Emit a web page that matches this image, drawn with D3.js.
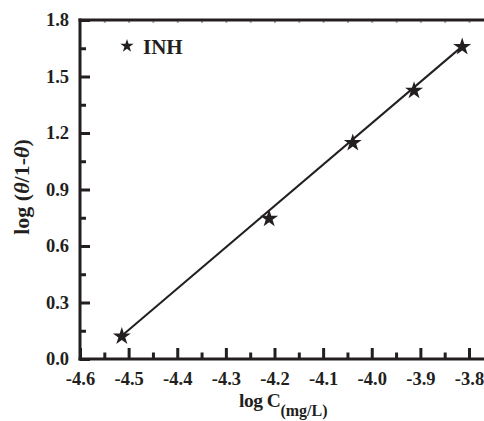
<!DOCTYPE html>
<html><head><meta charset="utf-8">
<script src="https://cdn.jsdelivr.net/npm/d3@7"></script>
<style>body{margin:0;background:#fff}svg{display:block}text{font-family:"Liberation Serif","Times New Roman",serif;font-weight:bold;fill:#231f20}</style>
</head><body>
<script>
const logC = [-4.514, -4.211, -4.039, -3.913, -3.814];
const logTheta = [0.12, 0.745, 1.147, 1.425, 1.657];
const fitX = [-4.514, -3.814];
const fitY = [0.124, 1.660];
const xTicks = [-4.6, -4.5, -4.4, -4.3, -4.2, -4.1, -4.0, -3.9, -3.8];
const xMinorTicks = [-4.55, -4.45, -4.35, -4.25, -4.15, -4.05, -3.95, -3.85];
const yTicks = [0.0, 0.3, 0.6, 0.9, 1.2, 1.5, 1.8];
const yMinorTicks = [0.15, 0.45, 0.75, 1.05, 1.35, 1.65];
const seriesName = "INH";

const W = 484, H = 421;
const ink = "#231f20";
const svg = d3.select("body").append("svg").attr("width", W).attr("height", H);
const x = d3.scaleLinear().domain([-4.6, -3.8]).range([80, 469]);
const y = d3.scaleLinear().domain([0, 1.8]).range([359, 20]);
const fmt = d => d.toFixed(1);

function styleAxis(sel, w) {
  sel.select(".domain").remove();
  sel.selectAll(".tick line").attr("stroke", ink).attr("stroke-width", w);
  sel.selectAll(".tick text").attr("fill", ink).attr("font-family", '"Liberation Serif", serif')
    .attr("font-weight", "bold").attr("font-size", 18.5);
}

// bottom axis major + minor
svg.append("g").attr("transform", "translate(0,359)")
  .call(d3.axisBottom(x).tickValues(xTicks).tickSizeInner(-11).tickSizeOuter(0).tickPadding(13).tickFormat(fmt))
  .call(s => styleAxis(s, 3));
svg.append("g").attr("transform", "translate(0,359)")
  .call(d3.axisBottom(x).tickValues(xMinorTicks).tickSizeInner(-6.5).tickSizeOuter(0).tickFormat(""))
  .call(s => styleAxis(s, 3));
// left axis major + minor
svg.append("g").attr("transform", "translate(80,0)")
  .call(d3.axisLeft(y).tickValues(yTicks).tickSizeInner(-10).tickSizeOuter(0).tickPadding(11).tickFormat(fmt))
  .call(s => styleAxis(s, 3));
svg.append("g").attr("transform", "translate(80,0)")
  .call(d3.axisLeft(y).tickValues(yMinorTicks).tickSizeInner(-6).tickSizeOuter(0).tickFormat(""))
  .call(s => styleAxis(s, 3));
// top axis faint ticks
svg.append("g").attr("transform", "translate(0,20)")
  .call(d3.axisTop(x).tickValues(xTicks.slice(1).concat(xMinorTicks)).tickSizeInner(-3).tickSizeOuter(0).tickFormat(""))
  .call(s => { s.select(".domain").remove(); s.selectAll(".tick line").attr("stroke", "#aaa").attr("stroke-width", 2); });

// axis lines
svg.append("line").attr("x1", 78.5).attr("x2", W).attr("y1", 359).attr("y2", 359).attr("stroke", ink).attr("stroke-width", 3);
svg.append("line").attr("x1", 80).attr("x2", 80).attr("y1", 18.5).attr("y2", 360.5).attr("stroke", ink).attr("stroke-width", 3);
svg.append("line").attr("x1", 78.5).attr("x2", W).attr("y1", 20).attr("y2", 20).attr("stroke", ink).attr("stroke-width", 3);

// axis titles
const xt = svg.append("text").attr("x", 239).attr("y", 407).attr("font-size", 19.5).attr("letter-spacing", -0.5);
xt.append("tspan").text("log C");
xt.append("tspan").attr("dy", 9).attr("font-size", 16).attr("letter-spacing", 0).text("(mg/L)");
const yt = svg.append("text").attr("transform", "translate(29,187) rotate(-90)").attr("text-anchor", "middle").attr("font-size", 22);
yt.append("tspan").text("log (");
yt.append("tspan").attr("font-style", "italic").text("θ");
yt.append("tspan").text("/1-");
yt.append("tspan").attr("font-style", "italic").text("θ");
yt.append("tspan").text(")");

// fit line
const line = d3.line().x(d => x(d[0])).y(d => y(d[1]));
svg.append("path").datum(fitX.map((v, i) => [v, fitY[i]])).attr("d", line)
  .attr("fill", "none").attr("stroke", ink).attr("stroke-width", 2);

// points
const star = d3.symbol().type(d3.symbolStar);
svg.selectAll("path.pt").data(logC.map((v, i) => [v, logTheta[i]])).join("path").attr("class", "pt")
  .attr("d", star.size(100)).attr("transform", d => `translate(${x(d[0])},${y(d[1])})`).attr("fill", ink);

// legend
svg.append("path").attr("d", d3.symbol().type(d3.symbolStar).size(55)).attr("transform", "translate(127,46)").attr("fill", ink);
svg.append("text").attr("x", 143).attr("y", 54).attr("font-size", 21).text(seriesName);
</script>
</body></html>
